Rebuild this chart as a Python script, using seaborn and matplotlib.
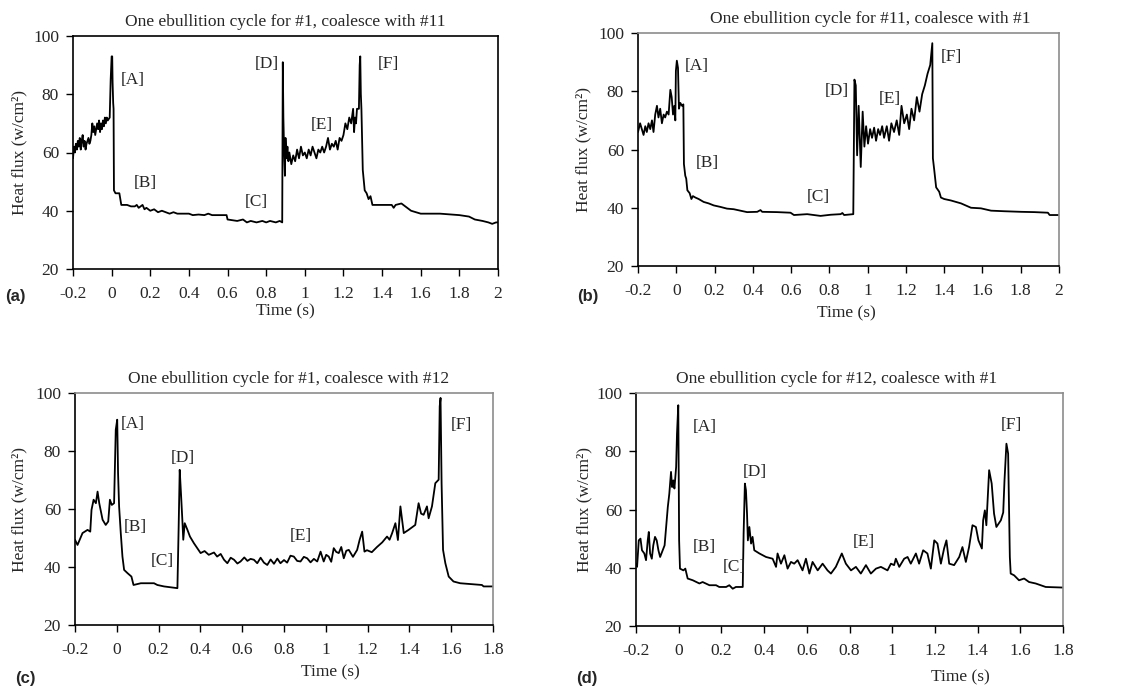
import matplotlib
matplotlib.use("Agg")
import matplotlib.pyplot as plt
import seaborn as sns

# Panel (a): #1, coalesce with #11
t_a = [-0.200, -0.195, -0.190, -0.185, -0.180, -0.175, -0.170, -0.165, -0.160, -0.155,
       -0.150, -0.145, -0.140, -0.135, -0.130, -0.125, -0.120, -0.115, -0.110, -0.105,
       -0.100, -0.095, -0.090, -0.085, -0.080, -0.075, -0.070, -0.065, -0.060, -0.055,
       -0.050, -0.045, -0.040, -0.035, -0.030, -0.025, -0.020, -0.010, -0.005, 0.000,
       0.003, 0.005, 0.008, 0.010, 0.012, 0.020, 0.040, 0.045, 0.050, 0.080,
       0.100, 0.120, 0.130, 0.140, 0.150, 0.160, 0.170, 0.180, 0.200, 0.220,
       0.240, 0.260, 0.280, 0.300, 0.320, 0.340, 0.400, 0.420, 0.450, 0.480,
       0.500, 0.520, 0.595, 0.600, 0.650, 0.680, 0.700, 0.720, 0.750, 0.780,
       0.800, 0.820, 0.850, 0.870, 0.883, 0.886, 0.889, 0.893, 0.897, 0.900,
       0.905, 0.910, 0.915, 0.920, 0.930, 0.940, 0.950, 0.960, 0.970, 0.980,
       0.990, 1.000, 1.010, 1.020, 1.030, 1.040, 1.050, 1.060, 1.070, 1.080,
       1.090, 1.100, 1.110, 1.120, 1.130, 1.140, 1.150, 1.160, 1.170, 1.180,
       1.190, 1.200, 1.210, 1.220, 1.230, 1.240, 1.250, 1.255, 1.260, 1.265,
       1.270, 1.280, 1.284, 1.287, 1.290, 1.293, 1.300, 1.310, 1.320, 1.330,
       1.340, 1.350, 1.400, 1.450, 1.460, 1.470, 1.500, 1.510, 1.530, 1.550,
       1.600, 1.700, 1.800, 1.850, 1.880, 1.920, 1.950, 1.970, 1.990, 2.000]
q_a = [58, 62, 60, 63, 61, 64, 62, 65, 61, 64,
       66, 62, 64, 61, 63, 64, 65, 63, 64, 66,
       70, 67, 69, 66, 68, 70, 68, 71, 67, 70,
       68, 71, 69, 72, 70, 72, 71, 72, 85, 93,
       93, 84, 77, 75, 47, 46, 46, 44, 42, 42,
       41.5, 41.5, 42, 41, 41.5, 42, 40.5, 41, 40, 40.5,
       39.5, 40, 39.5, 39, 39.5, 39, 39, 38.5, 38.7, 38.5,
       39, 38.5, 38.5, 37, 36.5, 37, 36, 36.5, 36, 36.5,
       36, 36.5, 36, 36.5, 36, 91, 72, 60, 52, 65,
       58, 62, 57, 60, 56, 59, 57, 61, 58, 62,
       59, 60, 58, 61, 59, 62, 60, 58, 61, 60,
       62, 60, 62, 65, 61, 63, 62, 64, 61, 65,
       64, 66, 70, 68, 72, 70, 75, 67, 72, 70,
       75, 75, 90, 93, 80, 75, 54, 47, 46, 44,
       45, 42, 42, 42, 41, 42, 42.5, 42, 41, 40,
       39, 39, 38.5, 38, 37, 36.5, 36, 35.5, 36, 36]

# Panel (b): #11, coalesce with #1
t_b = [-0.200, -0.189, -0.180, -0.171, -0.162, -0.154, -0.145, -0.136, -0.127, -0.119,
       -0.110, -0.101, -0.093, -0.084, -0.075, -0.066, -0.058, -0.049, -0.040, -0.031,
       -0.024, -0.017, -0.010, -0.005, -0.002, 0.003, 0.009, 0.014, 0.021, 0.030,
       0.037, 0.040, 0.047, 0.052, 0.058, 0.070, 0.079, 0.087, 0.100, 0.117,
       0.143, 0.169, 0.196, 0.230, 0.265, 0.300, 0.335, 0.370, 0.423, 0.440,
       0.449, 0.527, 0.597, 0.615, 0.684, 0.754, 0.807, 0.859, 0.868, 0.877,
       0.925, 0.931, 0.938, 0.945, 0.953, 0.964, 0.974, 0.983, 0.992, 1.002,
       1.013, 1.023, 1.034, 1.044, 1.055, 1.065, 1.076, 1.086, 1.100, 1.112,
       1.124, 1.138, 1.152, 1.165, 1.177, 1.191, 1.205, 1.217, 1.229, 1.243,
       1.257, 1.271, 1.285, 1.299, 1.313, 1.327, 1.338, 1.341, 1.348, 1.358,
       1.374, 1.383, 1.400, 1.435, 1.488, 1.540, 1.592, 1.645, 1.715, 1.802,
       1.872, 1.942, 1.951, 2.000]
q_b = [66, 69, 67, 65, 68, 66, 69, 67, 70, 66,
       72, 75, 71, 74, 69, 72, 71, 73, 72, 80.5,
       78, 72, 75, 70, 87, 90.5, 88, 74, 76, 75,
       75.5, 55, 51, 50, 46, 45, 43, 44, 43.5, 43,
       42, 41.5, 40.8, 40.3, 39.7, 39.5, 39, 38.5, 38.6, 39.2,
       38.6, 38.5, 38.3, 37.5, 37.8, 37.2, 37.6, 37.8, 38.2, 37.5,
       37.8, 84, 82, 58, 75, 54, 73, 61, 68, 62,
       67, 64, 67.5, 63, 67, 65, 68, 64, 68, 63,
       69, 66, 70, 65, 75, 69, 72, 67, 74, 70,
       78, 73, 79, 82, 86, 89, 96.5, 57, 53, 47,
       45.5, 43.5, 43, 42.5, 41.5, 40, 39.8, 39, 38.8, 38.6,
       38.5, 38.3, 37.5, 37.5]

# Panel (c): #1, coalesce with #12
t_c = [-0.200, -0.188, -0.164, -0.140, -0.127, -0.121, -0.111, -0.100, -0.092, -0.084,
       -0.068, -0.053, -0.041, -0.033, -0.024, -0.013, -0.005, 0.002, 0.006, 0.011,
       0.019, 0.027, 0.035, 0.051, 0.070, 0.080, 0.115, 0.178, 0.194, 0.226,
       0.290, 0.296, 0.301, 0.307, 0.314, 0.318, 0.325, 0.338, 0.350, 0.369,
       0.385, 0.401, 0.420, 0.440, 0.465, 0.480, 0.497, 0.513, 0.529, 0.545,
       0.561, 0.577, 0.592, 0.610, 0.625, 0.640, 0.656, 0.672, 0.688, 0.704,
       0.720, 0.736, 0.752, 0.768, 0.783, 0.800, 0.815, 0.831, 0.847, 0.863,
       0.879, 0.895, 0.911, 0.927, 0.943, 0.959, 0.975, 0.990, 1.002, 1.014,
       1.026, 1.038, 1.050, 1.062, 1.074, 1.086, 1.098, 1.110, 1.130, 1.150,
       1.162, 1.174, 1.185, 1.197, 1.220, 1.245, 1.270, 1.293, 1.305, 1.317,
       1.333, 1.345, 1.357, 1.373, 1.396, 1.428, 1.444, 1.456, 1.468, 1.484,
       1.492, 1.508, 1.524, 1.540, 1.545, 1.549, 1.554, 1.561, 1.572, 1.588,
       1.611, 1.643, 1.747, 1.755, 1.800]
q_c = [49.4, 47.6, 51.7, 52.8, 52.2, 59.7, 63.2, 62, 66, 62,
       56.3, 54.5, 55.7, 63.2, 61.4, 62, 87.3, 90.8, 72.4, 60.9,
       51.7, 43.6, 39, 37.9, 36.7, 33.8, 34.4, 34.4, 33.8, 33.3,
       32.7, 54, 73.5, 65.5, 55.7, 49.4, 55.1, 52.8, 50.5, 48.2,
       46.5, 44.8, 45.5, 44.2, 45, 43.6, 44.5, 42.5, 41.3, 43.2,
       42.5, 41.2, 41.9, 43.3, 42.1, 42.8, 42.5, 41.3, 43.2, 41.5,
       40.7, 42.6, 41.1, 42.9, 41.3, 42.4, 41.5, 43.9, 43.6, 42.1,
       41.9, 43.5, 43, 41.6, 42.8, 41.9, 45.3, 41.9, 44.2, 43.6,
       41.8, 46.5, 45.2, 44.8, 46.9, 43, 45.6, 45.9, 43.5, 45.9,
       49.4, 52.2, 45.3, 45.8, 45.1, 46.9, 48.5, 50.5, 49.4, 51.6,
       55.1, 49.3, 60.9, 51.7, 52.8, 54.5, 62, 58.4, 58, 60.9,
       56.8, 60.9, 68.9, 70.1, 95.4, 98.3, 68.9, 45.9, 41.3, 36.7,
       35, 34.4, 33.8, 33.3, 33.3]

# Panel (d): #12, coalesce with #1
t_d = [-0.200, -0.195, -0.187, -0.179, -0.172, -0.161, -0.153, -0.145, -0.140, -0.134,
       -0.126, -0.119, -0.111, -0.103, -0.095, -0.087, -0.075, -0.066, -0.059, -0.051,
       -0.044, -0.036, -0.031, -0.025, -0.020, -0.012, -0.008, -0.002, 0.002, 0.006,
       0.022, 0.031, 0.042, 0.066, 0.097, 0.112, 0.144, 0.175, 0.190, 0.222,
       0.237, 0.253, 0.268, 0.300, 0.304, 0.310, 0.315, 0.320, 0.324, 0.331,
       0.339, 0.346, 0.354, 0.378, 0.409, 0.440, 0.456, 0.463, 0.479, 0.495,
       0.510, 0.526, 0.541, 0.557, 0.580, 0.596, 0.612, 0.627, 0.651, 0.674,
       0.697, 0.713, 0.736, 0.764, 0.783, 0.807, 0.830, 0.853, 0.877, 0.900,
       0.924, 0.947, 0.978, 0.994, 1.009, 1.017, 1.033, 1.056, 1.072, 1.087,
       1.111, 1.126, 1.145, 1.165, 1.181, 1.197, 1.212, 1.228, 1.243, 1.254,
       1.267, 1.290, 1.314, 1.329, 1.345, 1.360, 1.376, 1.392, 1.404, 1.420,
       1.426, 1.434, 1.441, 1.454, 1.466, 1.477, 1.488, 1.498, 1.509, 1.520,
       1.526, 1.535, 1.543, 1.551, 1.555, 1.571, 1.594, 1.618, 1.641, 1.672,
       1.719, 1.800]
q_d = [41.4, 40.3, 49.4, 50, 46, 44.9, 42.6, 49.4, 52.3, 44.9,
       43.1, 47.7, 50.6, 49.4, 46, 43.7, 46, 47.7, 54, 60.9,
       65.4, 72.9, 67.7, 70, 67.2, 74.6, 86, 95.8, 49.4, 39.7,
       39.1, 39.7, 36.3, 35.7, 34.6, 35.1, 34, 34, 33.4, 33.4,
       34, 32.8, 33.4, 33.4, 51.7, 68.9, 66.6, 58.6, 49.4, 54,
       48.3, 50.6, 46, 44.9, 43.7, 43.1, 40.3, 44.9, 41.4, 44.3,
       39.7, 42, 41.4, 42.6, 39.1, 43.1, 38, 42, 39.1, 41.4,
       39.1, 38, 40.3, 44.9, 41.4, 39.1, 40.3, 38, 40.9, 38,
       39.7, 40.3, 39.1, 41.4, 40.9, 43.1, 40.3, 43.1, 43.7, 41.4,
       44.9, 41.4, 46, 44.9, 39.7, 49.4, 48.3, 41.4, 46.6, 49.4,
       41.4, 40.9, 43.7, 47.1, 42, 47.1, 54.6, 54, 49.4, 46.6,
       56.3, 59.7, 54.6, 73.5, 68.9, 58.6, 54, 55.1, 56.3, 59,
       70, 82.6, 79.2, 43.7, 38, 37.4, 35.7, 36.3, 35.1, 34.6,
       33.4, 33.2]

titles = ["One ebullition cycle for #1, coalesce with #11",
          "One ebullition cycle for #11, coalesce with #1",
          "One ebullition cycle for #1, coalesce with #12",
          "One ebullition cycle for #12, coalesce with #1"]
panel_tags = ["(a)", "(b)", "(c)", "(d)"]
stage_names = ["[A]", "[B]", "[C]", "[D]", "[E]", "[F]"]
# where each stage tag sits (time, heat flux) in every panel
stage_t = [[0.11, 0.173, 0.747, 0.804, 1.089, 1.43],
           [0.108, 0.16, 0.74, 0.84, 1.117, 1.44],
           [0.078, 0.087, 0.22, 0.317, 0.88, 1.65],
           [0.123, 0.118, 0.26, 0.357, 0.868, 1.556]]
stage_q = [[84.9, 49.5, 43, 90.4, 69.4, 90.4],
           [88.7, 55.3, 43.6, 80, 77.3, 91.8],
           [89.3, 53.8, 42, 77.6, 50.7, 89],
           [88.3, 47.1, 40.2, 72.8, 48.8, 89]]
xticks_long = [-0.2, 0, 0.2, 0.4, 0.6, 0.8, 1, 1.2, 1.4, 1.6, 1.8, 2]
xticks_short = [-0.2, 0, 0.2, 0.4, 0.6, 0.8, 1, 1.2, 1.4, 1.6, 1.8]
yticks = [20, 40, 60, 80, 100]

sns.set_theme(style="ticks")
plt.rcParams['font.family'] = ['Liberation Serif', 'DejaVu Serif']

fig = plt.figure(figsize=(11.21, 6.87), dpi=100)
W, H = 1121, 687
# axes boxes in pixels: left, top, right, bottom
boxes = [(73, 36, 498, 269), (638, 33, 1059, 266),
         (75, 393, 493, 625), (636, 393, 1063, 626)]
series = [(t_a, q_a), (t_b, q_b), (t_c, q_c), (t_d, q_d)]
xtick_sets = [xticks_long, xticks_long, xticks_short, xticks_short]
title_x = [0.50, 0.551, 0.51, 0.47]
ylabel_x = [27, 591, 27, 592]
xlabel_pos = [(285, 303), (846, 305), (330, 664), (960, 669)]
tag_pos = [(5, 297), (577, 297), (15, 678), (576, 678)]
edge_colors = ["black", "#8c8c8c", "#8c8c8c", "#8c8c8c"]

for i in range(4):
    l, t, r, b = boxes[i]
    ax = fig.add_axes([l / W, 1 - b / H, (r - l) / W, (b - t) / H])
    tt, qq = series[i]
    sns.lineplot(x=tt, y=qq, ax=ax, color="black", lw=1.3,
                 estimator=None, sort=False)
    xt = xtick_sets[i]
    ax.set_xlim(xt[0], xt[-1])
    ax.set_ylim(20, 100)
    ax.set_xticks(xt)
    ax.set_xticklabels([f"{v:g}" for v in xt])
    ax.set_yticks(yticks)
    ax.set_yticklabels([str(v) for v in yticks])
    ax.tick_params(axis="both", direction="out", length=5, width=1,
                   labelsize=12.5, color="black")
    ax.tick_params(axis="x", pad=7)
    ax.tick_params(axis="y", pad=5)
    for s in ["left", "bottom"]:
        ax.spines[s].set_color("black")
        ax.spines[s].set_linewidth(1.2)
    for s in ["top", "right"]:
        ax.spines[s].set_visible(True)
        ax.spines[s].set_color(edge_colors[i])
        ax.spines[s].set_linewidth(1.2)
    ax.set_title(titles[i], fontsize=12.5, x=title_x[i], pad=7)
    ax.set_ylabel("Heat flux (w/cm²)", fontsize=12.5)
    ax.yaxis.set_label_coords((ylabel_x[i] - l) / (r - l), 0.5)
    ax.set_xlabel("Time (s)", fontsize=12.5)
    xl, yl = xlabel_pos[i]
    ax.xaxis.set_label_coords((xl - l) / (r - l), (b - yl) / (b - t))
    for name, st, sq in zip(stage_names, stage_t[i], stage_q[i]):
        ax.text(st, sq, name, fontsize=12.5, ha="center", va="center")
    tx, ty = tag_pos[i]
    fig.text(tx / W, 1 - ty / H, panel_tags[i], fontsize=12,
             fontweight="bold", family="Liberation Sans", va="center")

fig.savefig("out.png", dpi=100)
